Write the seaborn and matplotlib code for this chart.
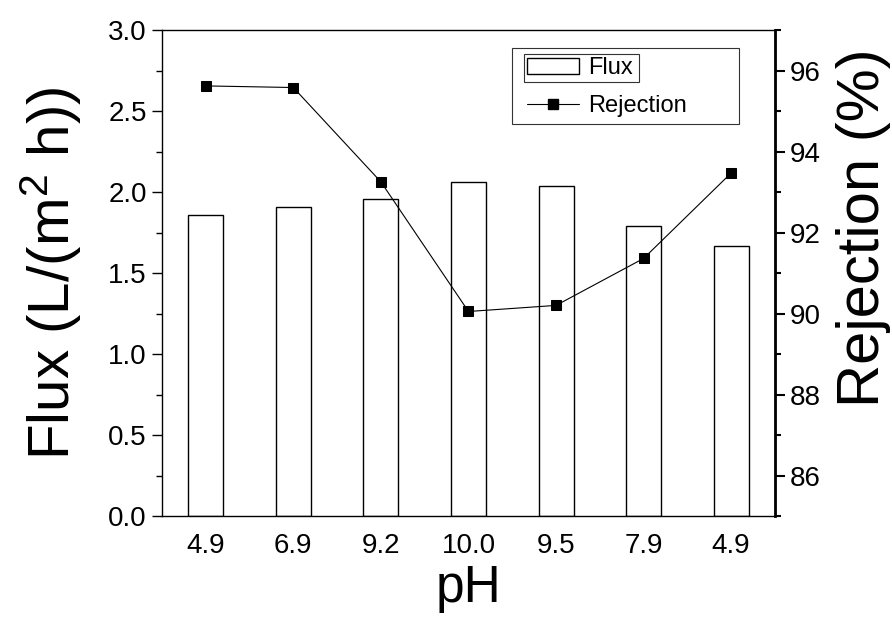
import numpy as np
import pandas as pd
import matplotlib
matplotlib.use("Agg")
import matplotlib.pyplot as plt
import seaborn as sns
from matplotlib.patches import Patch, Rectangle
from matplotlib.lines import Line2D
from matplotlib.ticker import MultipleLocator, FormatStrFormatter
from matplotlib.transforms import Bbox

# data
ph_labels = ["4.9", "6.9", "9.2", "10.0", "9.5", "7.9", "4.9"]
flux = [1.86, 1.91, 1.955, 2.064, 2.039, 1.792, 1.667]
rejection = [95.62, 95.58, 93.25, 90.05, 90.20, 91.36, 93.47]

sns.set_style("ticks")
plt.rcParams['font.family'] = ['Liberation Sans', 'DejaVu Sans']
plt.rcParams['mathtext.fontset'] = 'custom'
plt.rcParams['mathtext.rm'] = 'Liberation Sans'
plt.rcParams['mathtext.it'] = 'Liberation Sans'
for k in ["text.color", "axes.labelcolor", "xtick.color", "ytick.color", "axes.edgecolor"]:
    plt.rcParams[k] = "black"

df = pd.DataFrame({"step": np.arange(len(flux)), "pH": ph_labels,
                   "flux": flux, "rejection": rejection})

fig = plt.figure(figsize=(8.92, 6.19), dpi=100)
ax = fig.add_axes([0.1816, 0.1664, 0.6872, 0.7851])

sns.barplot(data=df, x="step", y="flux", color="white", edgecolor="black",
            linewidth=1.0, width=0.4, ax=ax, saturation=1)
ax.set_xlim(-0.5, 6.5)
ax.set_ylim(0, 3.0)
ax.set_xticks(range(len(ph_labels)))
ax.set_xticklabels(ph_labels)
ax.yaxis.set_major_locator(MultipleLocator(0.5))
ax.yaxis.set_minor_locator(MultipleLocator(0.25))
ax.yaxis.set_major_formatter(FormatStrFormatter("%.1f"))
ax.tick_params(axis="y", which="major", length=7, width=1, labelsize=20, pad=4)
ax.tick_params(axis="y", which="minor", length=4, width=1)
ax.tick_params(axis="x", length=0, labelsize=20, pad=12)
ax.set_xlabel("pH", fontsize=37, labelpad=4)
ax.set_ylabel("Flux (L/(m$^2$ h))", fontsize=42, labelpad=17)
for s in ax.spines.values():
    s.set_linewidth(1.0)

ax2 = ax.twinx()
sns.lineplot(data=df, x="step", y="rejection", color="black", linewidth=0.8,
             marker="s", markersize=7.5, markeredgecolor="black", ax=ax2)
ax2.set_ylim(85, 97)
ax2.yaxis.set_major_locator(MultipleLocator(2))
ax2.yaxis.set_minor_locator(MultipleLocator(1))
ax2.tick_params(axis="y", which="major", length=7, width=1.5, labelsize=20, pad=4)
ax2.tick_params(axis="y", which="minor", length=4, width=1.5)
ax2.set_ylabel("Rejection (%)", fontsize=43)
ax2.yaxis.set_label_coords(1.1, 0.593)
ax2.spines["right"].set_linewidth(2.0)
for side in ["top", "left", "bottom"]:
    ax2.spines[side].set_visible(False)
ax2.set_xlim(-0.5, 6.5)

handles = [Patch(facecolor="white", edgecolor="black", linewidth=1.0),
           Line2D([], [], color="black", linewidth=0.8, marker="s", markersize=6.5)]
leg = ax2.legend(handles, ["Flux", "Rejection"], loc="upper left",
                 bbox_to_anchor=(0.5954, 0.944), fontsize=17, frameon=False,
                 handlelength=2.2, handletextpad=0.4, borderpad=0,
                 labelspacing=0.66, borderaxespad=0)

# Origin-style frames: outer legend box and box around the Flux entry
fig.canvas.draw()
r = fig.canvas.get_renderer()
inv = fig.transFigure.inverted()

def add_box(x0, y0, x1, y1, lw):
    (a, b), (c, d) = inv.transform([[x0, y0], [x1, y1]])
    fig.patches.append(Rectangle((a, b), c - a, d - b, fill=False,
                                 edgecolor="#333333", linewidth=lw,
                                 transform=fig.transFigure, zorder=10))

bb = Bbox.union([leg.legend_handles[0].get_window_extent(r),
                 leg.get_texts()[0].get_window_extent(r)])
add_box(bb.x0 - 3, bb.y0 - 3, bb.x1 + 6, bb.y1 + 3, 0.8)
lb = leg.get_window_extent(r)
add_box(lb.x0 - 15, lb.y0 - 7, lb.x1 + 52, lb.y1 + 9, 0.8)

fig.savefig("out.png", dpi=100)
